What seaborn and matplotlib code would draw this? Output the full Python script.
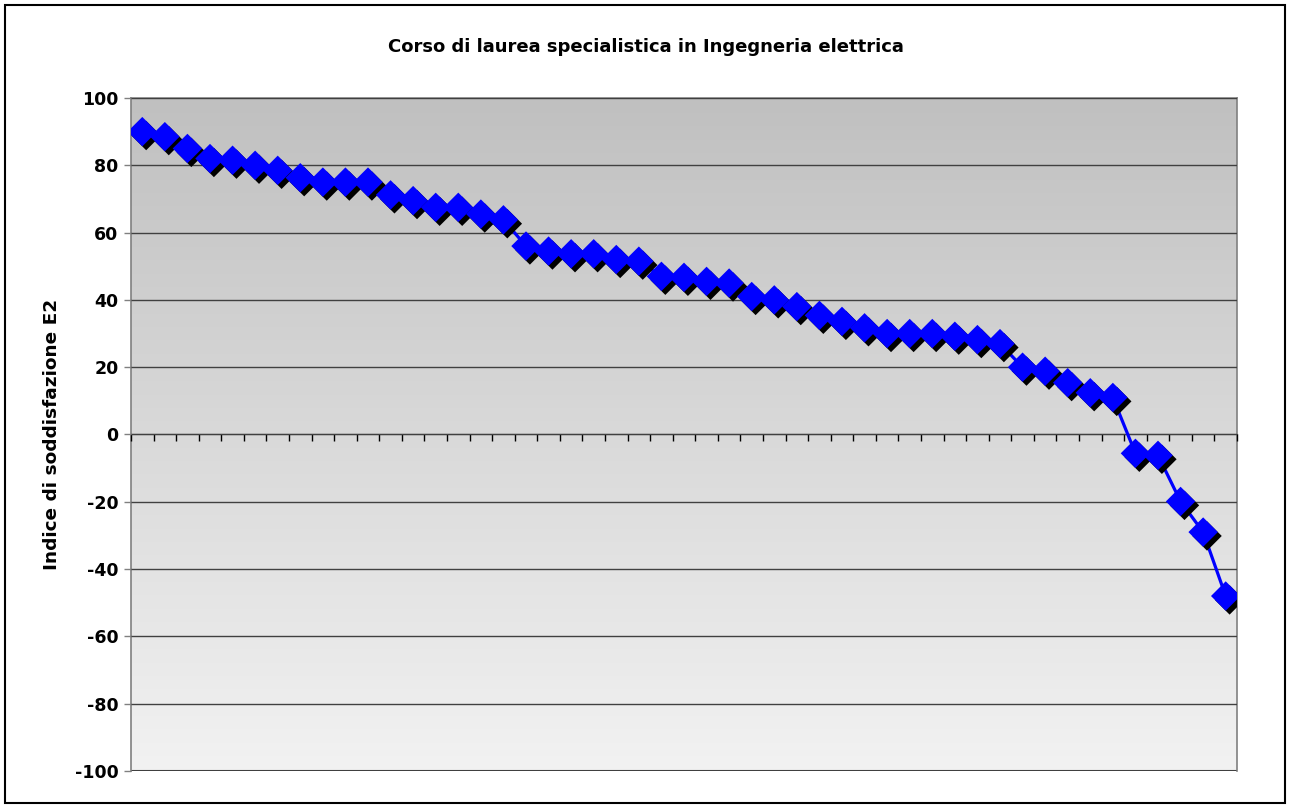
import numpy as np
import pandas as pd
import seaborn as sns
import matplotlib.pyplot as plt
import matplotlib.patheffects as pe

# satisfaction index per course, sorted descending
valori = [90, 88.5, 85, 82, 81.5, 80, 78.5, 76.3, 75, 75, 75, 71.2, 69.5, 67.5, 67.5, 65.5, 63.8,
          56, 54.5, 53.7, 53.7, 52, 51.5, 47, 46.7, 45.5, 45, 41, 40, 38, 35.4, 33.6,
          31.7, 30, 30, 30, 29.2, 28.2, 27, 20, 18.8, 15.4, 12.4, 11,
          -5.6, -6.2, -19.9, -29, -48]
posizione = list(range(1, len(valori) + 1))
y_ticks = list(range(-100, 101, 20))

df = pd.DataFrame({'pos': posizione, 'indice': valori})

sns.set_style("white")
plt.rcParams['font.family'] = ['DejaVu Sans']
plt.rcParams['text.color'] = 'black'
plt.rcParams['ytick.labelcolor'] = 'black'
plt.rcParams['axes.labelcolor'] = 'black'

fig = plt.figure(figsize=(12.9, 8.08), dpi=100)
ax = fig.add_axes([131 / 1290, 1 - 771 / 808, (1237 - 131) / 1290, (771 - 98) / 808])

# grey gradient background of the plot area
grad = np.linspace(192, 242, 256).reshape(-1, 1) / 255
ax.imshow(np.dstack([grad, grad, grad]), aspect='auto', origin='upper',
          extent=(0.5, len(valori) + 0.5, -100, 100), zorder=0)

sns.lineplot(data=df, x='pos', y='indice', color='#0000ff', linewidth=2.3, ax=ax, zorder=3)
pts = sns.scatterplot(data=df, x='pos', y='indice', marker='D', s=225, color='#0000ff',
                      edgecolor='none', linewidth=0, ax=ax, zorder=4)
pts.collections[-1].set_path_effects([pe.withSimplePatchShadow(offset=(2.8, -2.8),
                                                               shadow_rgbFace='black', alpha=1)])

ax.set_xlim(0.5, len(valori) + 0.5)
ax.set_ylim(-100, 100)
ax.set_yticks(y_ticks)
ax.set_yticklabels([str(v) for v in y_ticks], fontsize=12.5, fontweight='bold', color='black')
ax.yaxis.grid(True, color='#404040', linewidth=1)
ax.set_axisbelow(False)
for gl in ax.get_ygridlines():
    gl.set_zorder(1)
ax.axhline(-100, color='#404040', linewidth=1.5, zorder=1)

# category axis crossing at zero, tick marks between categories
ax.spines['bottom'].set_position(('data', 0))
ax.spines['bottom'].set_color('black')
ax.spines['bottom'].set_zorder(2)
ax.set_xticks(np.arange(0.5, len(valori) + 1, 1))
ax.set_xticklabels([])
ax.tick_params(axis='x', which='major', direction='out', length=5, width=1, color='black', bottom=True)
ax.tick_params(axis='y', direction='out', length=5, width=1, color='#808080', left=True, pad=4)
for s in ['left', 'top', 'right']:
    ax.spines[s].set_color('#808080')
    ax.spines[s].set_linewidth(1.2)

ax.set_xlabel('')
ax.set_ylabel('Indice di soddisfazione E2', fontsize=13.3, fontweight='bold', labelpad=10, color='black')
fig.text(646 / 1290, 1 - 47 / 808, 'Corso di laurea specialistica in Ingegneria elettrica',
         ha='center', va='center', fontsize=13, fontweight='bold', color='black')

fig.add_artist(plt.Rectangle((5 / 1290, 5 / 808), 1280 / 1290, 798 / 808, transform=fig.transFigure,
                             fill=False, edgecolor='black', linewidth=1.5))

plt.savefig('out.png', dpi=100)
